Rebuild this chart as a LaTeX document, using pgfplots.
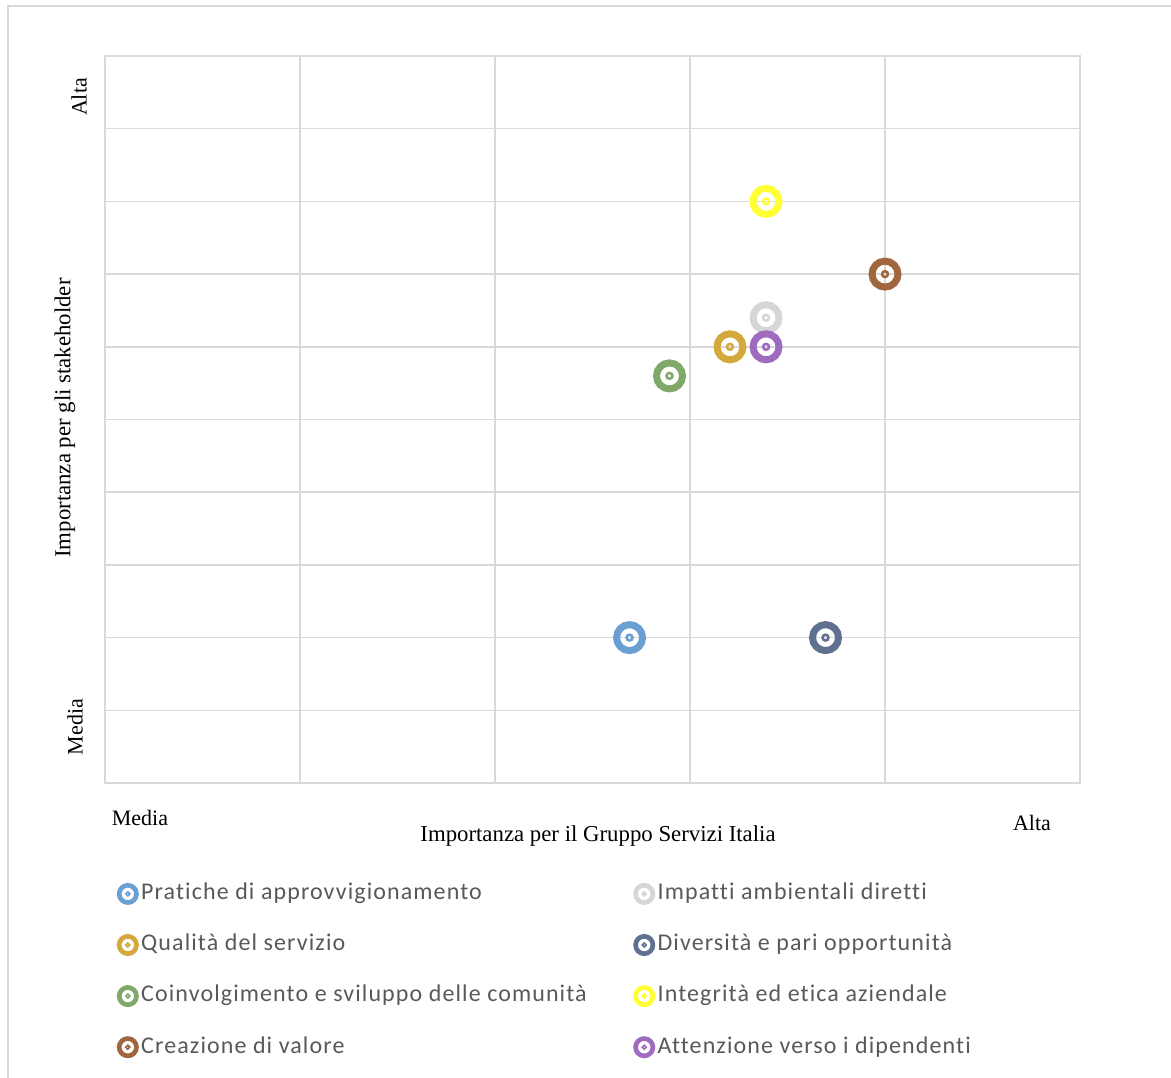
\documentclass[border=0pt]{standalone}
\usepackage{pgfplots}
\pgfplotsset{compat=1.18}
\usepackage{fontspec}
\setmainfont{Liberation Serif}
\newfontfamily\carlito[LetterSpace=4.6,Ligatures=CommonOff]{Carlito}
\definecolor{gridgray}{HTML}{D9D9D9}
\definecolor{legtext}{HTML}{595959}
\definecolor{cBlue}{HTML}{6A9FD2}
\definecolor{cGray}{HTML}{D6D6D6}
\definecolor{cGold}{HTML}{D4A83A}
\definecolor{cSlate}{HTML}{5F7090}
\definecolor{cGreen}{HTML}{80A86B}
\definecolor{cYellow}{HTML}{FFFF33}
\definecolor{cBrown}{HTML}{A0673F}
\definecolor{cPurple}{HTML}{9E6BBE}
\pgfdeclareplotmark{target}{%
  \pgfsetlinewidth{0.424\pgfplotmarksize}%
  \pgfpathcircle{\pgfpointorigin}{0.788\pgfplotmarksize}%
  \pgfusepathqstroke
  \pgfsetlinewidth{0.15\pgfplotmarksize}%
  \pgfpathcircle{\pgfpointorigin}{0.18\pgfplotmarksize}%
  \pgfusepathqstroke
}
\begin{document}
\begin{tikzpicture}
\path[use as bounding box] (0pt,0pt) rectangle (585.5pt,-538.5pt);
\draw[gridgray, line width=0.75pt] (4pt,-540pt) -- (4pt,-3pt) -- (586pt,-3pt);
\begin{axis}[
  at={(52.5pt,-391.5pt)}, anchor=south west,
  width=487.5pt, height=363.5pt, scale only axis,
  xmin=0, xmax=10, ymin=0, ymax=10,
  xtick={0,2,...,10}, ytick={0,1,...,10},
  xticklabels={}, yticklabels={},
  major tick length=0pt,
  grid=major,
  grid style={gridgray, line width=0.75pt},
  axis line style={gridgray, line width=0.75pt},
  every axis plot/.append style={only marks, mark=target, mark size=8.25pt},
  legend columns=2,
  legend cell align=left,
  legend image code/.code={%
    \path (0pt,0pt) (11pt,0pt);
    \draw[#1, mark size=5.5pt] plot coordinates {(5.5pt,0pt)};},
  legend style={
    at={(0.0113,-0.133)}, anchor=north west,
    draw=none, fill=none,
    font=\carlito\fontsize{12}{14}\selectfont,
    text=legtext,
    inner sep=0pt,
    column sep=0pt,
    row sep=11.75pt,
    nodes={inner sep=1pt, text height=8.8pt, text depth=3pt},
    /tikz/column 2/.style={column sep=22pt},
  },
]
\addplot[color=cBlue] coordinates {(5.38,2.0)};
\addlegendentry{Pratiche di approvvigionamento}
\addplot[color=cGray] coordinates {(6.78,6.4)};
\addlegendentry{Impatti ambientali diretti}
\addplot[color=cGold] coordinates {(6.41,6.0)};
\addlegendentry{Qualità del servizio}
\addplot[color=cSlate] coordinates {(7.39,2.0)};
\addlegendentry{Diversità e pari opportunità}
\addplot[color=cGreen] coordinates {(5.79,5.6)};
\addlegendentry{Coinvolgimento e sviluppo delle comunità}
\addplot[color=cYellow] coordinates {(6.78,8.0)};
\addlegendentry{Integrità ed etica aziendale}
\addplot[color=cBrown] coordinates {(8.0,7.0)};
\addlegendentry{Creazione di valore}
\addplot[color=cPurple] coordinates {(6.78,6.0)};
\addlegendentry{Attenzione verso i dipendenti}
\end{axis}
\node[font=\fontsize{11}{13}\selectfont] at (70pt,-409pt) {Media};
\node[font=\fontsize{11}{13}\selectfont] at (516pt,-411.5pt) {Alta};
\node[font=\fontsize{11.4}{13}\selectfont] at (299pt,-418pt) {Importanza per il Gruppo Servizi Italia};
\node[font=\fontsize{11.4}{13}\selectfont, rotate=90] at (32.5pt,-209pt) {Importanza per gli stakeholder};
\node[font=\fontsize{11}{13}\selectfont, rotate=90] at (39.5pt,-48.5pt) {Alta};
\node[font=\fontsize{11}{13}\selectfont, rotate=90] at (37.5pt,-363.5pt) {Media};
\end{tikzpicture}
\end{document}
